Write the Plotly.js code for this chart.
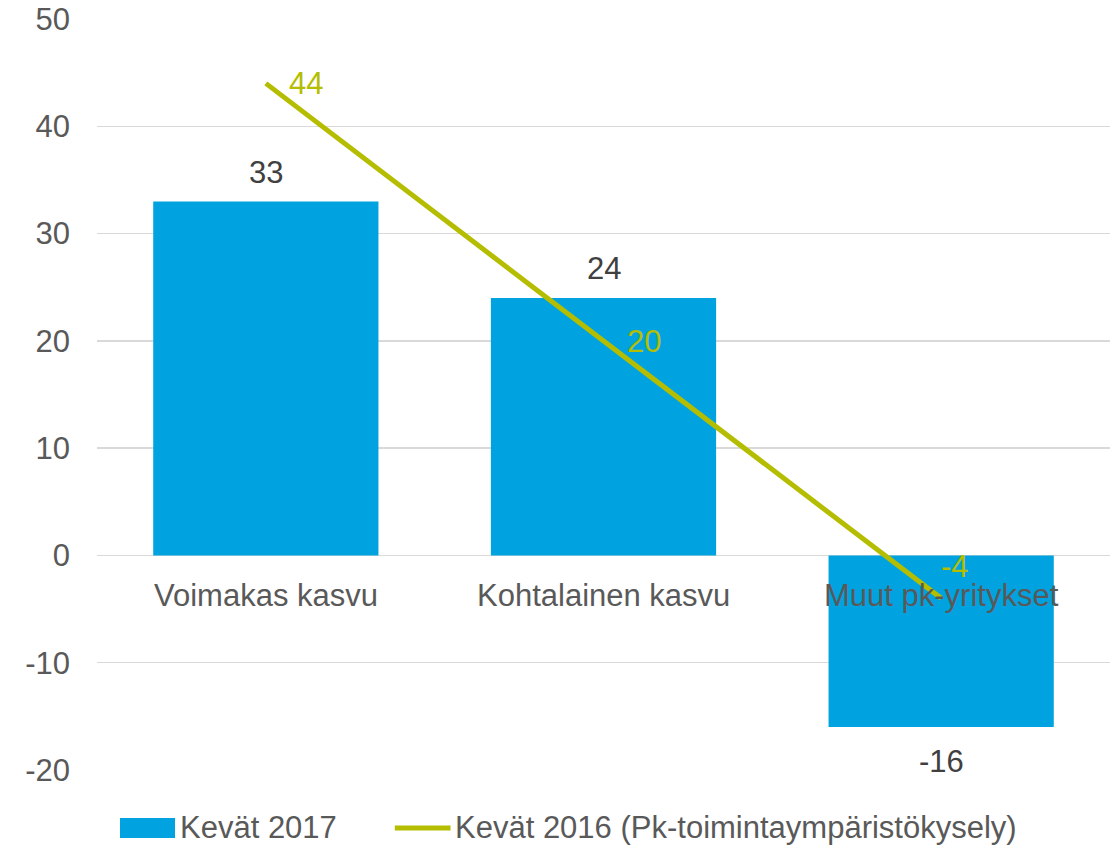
<!DOCTYPE html>
<html>
<head>
<meta charset="utf-8">
<script src="https://cdn.plot.ly/plotly-3.0.1.min.js"></script>
<style>html,body{margin:0;padding:0;background:#fff;}#chart{width:1117px;height:845px;}</style>
</head>
<body>
<div id="chart"></div>
<script>
const categories = ["Voimakas kasvu", "Kohtalainen kasvu", "Muut pk-yritykset"];
const values2017 = [33, 24, -16];
const values2016 = [44, 20, -4];
const seriesNames = ["Kevät 2017", "Kevät 2016 (Pk-toimintaympäristökysely)"];
const yTicks = [-20, -10, 0, 10, 20, 30, 40, 50];
const yTickLabels = ["-20", "-10", "0", "10", "20", "30", "40", "50"];

// label offsets (pixels) for line labels
const lineLabelDX = [40, 40, 14];
const lineLabelDY = [0, -1, 32];

const barColor = "#00A3E0";
const lineColor = "#B5BD00";
const font = "Liberation Sans, Arial, sans-serif";
const fs = 31;

const traces = [
  {type: "bar", x: categories, y: values2017, name: seriesNames[0],
   marker: {color: barColor}, hoverinfo: "x+y", showlegend: false},
  {type: "scatter", mode: "lines", x: categories, y: values2016, name: seriesNames[1],
   line: {color: lineColor, width: 5}, showlegend: false}
];

const annotations = [];
categories.forEach((c, i) => {
  annotations.push({x: c, y: 0, xref: "x", yref: "y", text: c, showarrow: false,
    yanchor: "middle", yshift: -40, font: {family: font, size: fs, color: "#595959"}});
  const v = values2017[i];
  annotations.push({x: c, y: v, xref: "x", yref: "y", text: String(v), showarrow: false,
    yanchor: "middle", yshift: v >= 0 ? 29 : -34, font: {family: font, size: fs, color: "#404040"}});
  annotations.push({x: c, y: values2016[i], xref: "x", yref: "y", text: String(values2016[i]), showarrow: false,
    xanchor: "center", yanchor: "middle", xshift: lineLabelDX[i], yshift: lineLabelDY[i],
    font: {family: font, size: fs, color: lineColor}});
});

// manual legend
annotations.push({xref: "paper", yref: "paper", x: 0.080, y: -0.0772, xanchor: "left", yanchor: "middle",
  text: seriesNames[0], showarrow: false, font: {family: font, size: fs, color: "#595959"}});
annotations.push({xref: "paper", yref: "paper", x: 0.3514, y: -0.0772, xanchor: "left", yanchor: "middle",
  text: seriesNames[1], showarrow: false, font: {family: font, size: fs, color: "#595959"}});

const shapes = [
  {type: "rect", xref: "paper", yref: "paper", x0: 0.0227, x1: 0.077, y0: -0.0905, y1: -0.0639,
   fillcolor: barColor, line: {width: 0}},
  {type: "line", xref: "paper", yref: "paper", x0: 0.294, x1: 0.349, y0: -0.0772, y1: -0.0772,
   line: {color: lineColor, width: 5}}
];

const layout = {
  width: 1117, height: 845,
  margin: {l: 97, r: 7, t: 19, b: 75},
  paper_bgcolor: "#fff", plot_bgcolor: "#fff",
  bargap: 0.333,
  showlegend: false,
  xaxis: {showticklabels: false, showgrid: false, zeroline: false, showline: false, ticks: ""},
  yaxis: {range: [-20, 50], tickvals: yTicks, ticktext: yTickLabels, showgrid: true, gridcolor: "#d9d9d9", gridwidth: 1.5,
    zeroline: true, zerolinecolor: "#d9d9d9", zerolinewidth: 1.5, showline: false, ticks: "",
    ticklabelstandoff: 26, tickfont: {family: font, size: fs, color: "#595959"}},
  annotations: annotations,
  shapes: shapes,
  font: {family: font}
};

Plotly.newPlot("chart", traces, layout, {displayModeBar: false, staticPlot: true});
</script>
</body>
</html>
